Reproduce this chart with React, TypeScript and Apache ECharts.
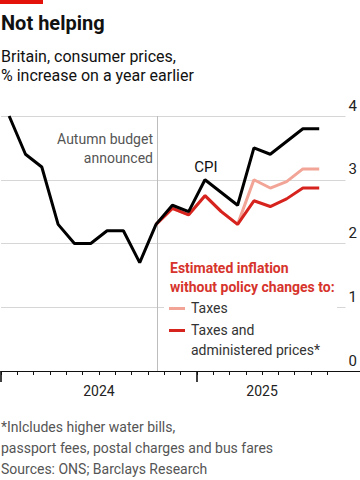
import React, { useEffect, useRef } from "react";
import * as echarts from "echarts";

// Months Jan 2024 .. Aug 2025
const months = [
  "Jan 2024", "Feb 2024", "Mar 2024", "Apr 2024", "May 2024", "Jun 2024",
  "Jul 2024", "Aug 2024", "Sep 2024", "Oct 2024", "Nov 2024", "Dec 2024",
  "Jan 2025", "Feb 2025", "Mar 2025", "Apr 2025", "May 2025", "Jun 2025",
  "Jul 2025", "Aug 2025",
];
const cpi = [4.0, 3.4, 3.2, 2.3, 2.0, 2.0, 2.2, 2.2, 1.7, 2.3, 2.6, 2.5, 3.0, 2.8, 2.6, 3.5, 3.4, 3.6, 3.8, 3.8];
const taxes = [null, null, null, null, null, null, null, null, null, 2.3, 2.55, 2.45, 2.75, 2.5, 2.3, 3.0, 2.87, 2.97, 3.17, 3.17];
const taxesAdmin = [null, null, null, null, null, null, null, null, null, 2.3, 2.55, 2.45, 2.75, 2.5, 2.3, 2.67, 2.58, 2.7, 2.87, 2.87];
const monthTicks = [0, 1, 2, 3, 4, 5, 6, 7, 8, 9, 10, 11, 12, 13, 14, 15, 16, 17, 18, 19, 20];
const yearTicks = [0, 12];
const yearLabelPos = [6, 16];
const yearLabels = ["2024", "2025"];
const budgetMonth = 9.55;
const yTicks = [0, 1, 2, 3, 4];

const FONT = "Roboto";

function toPoints(arr: (number | null)[]) {
  const out: number[][] = [];
  arr.forEach((v, i) => {
    if (v !== null) out.push([i + 0.5, v]);
  });
  return out;
}

export default function App() {
  const ref = useRef<HTMLDivElement>(null);
  useEffect(() => {
    if (!ref.current) return;
    const chart = echarts.init(ref.current, null, { renderer: "svg" });
    const txt = (text: string, x: number, y: number, o: any = {}) => ({
      type: "text",
      x,
      y,
      z: 10,
      style: {
        text,
        fontFamily: FONT,
        fontSize: 14,
        fill: "#222",
        verticalAlign: "middle",
        align: "left",
        ...o,
      },
    });
    chart.setOption({
      animation: false,
      backgroundColor: "#fff",
      grid: [
        { left: 1, right: 0, top: 116, bottom: 109 },
        { left: 1, right: 11, top: 116, bottom: 109 },
      ],
      xAxis: [
        {
          gridIndex: 0,
          type: "value",
          min: 0,
          max: 22,
          z: 5,
          axisLine: { show: true, lineStyle: { color: "#111", width: 1 } },
          axisTick: { show: true, customValues: monthTicks, length: 4, lineStyle: { color: "#111", width: 1 } },
          axisLabel: { show: false },
          splitLine: { show: false },
        },
        {
          gridIndex: 0,
          type: "value",
          min: 0,
          max: 22,
          position: "bottom",
          z: 5,
          axisLine: { show: false },
          axisTick: { show: true, customValues: yearTicks, length: 11, lineStyle: { color: "#111", width: 1.6 } },
          axisLabel: {
            show: true,
            customValues: yearLabelPos,
            formatter: (v: number) => yearLabels[yearLabelPos.indexOf(v)] ?? "",
            fontFamily: FONT,
            fontSize: 14,
            color: "#222",
            margin: 13,
          },
          splitLine: { show: false },
        },
        { gridIndex: 1, type: "value", min: 0, max: 22, show: false },
      ],
      yAxis: [
        { gridIndex: 0, type: "value", min: 0, max: 4, show: false },
        {
          gridIndex: 1,
          type: "value",
          min: 0,
          max: 4,
          interval: 1,
          position: "right",
          axisLine: { show: false },
          axisTick: { show: false },
          splitLine: { show: true, lineStyle: { color: "#d6d6d6", width: 1 } },
          axisLabel: {
            show: true,
            customValues: yTicks,
            margin: 3,
            verticalAlign: "bottom",
            padding: [0, 0, 3, 0],
            fontFamily: FONT,
            fontSize: 15,
            color: "#222",
          },
        },
      ],
      series: [
        {
          type: "line",
          name: "Taxes",
          xAxisIndex: 0,
          yAxisIndex: 0,
          data: toPoints(taxes),
          symbol: "none",
          lineStyle: { color: "#f2a497", width: 3 },
          z: 3,
        },
        {
          type: "line",
          name: "Taxes and administered prices",
          xAxisIndex: 0,
          yAxisIndex: 0,
          data: toPoints(taxesAdmin),
          symbol: "none",
          lineStyle: { color: "#d7231e", width: 3 },
          z: 4,
        },
        {
          type: "line",
          name: "CPI",
          xAxisIndex: 0,
          yAxisIndex: 0,
          data: toPoints(cpi),
          symbol: "none",
          lineStyle: { color: "#000", width: 3 },
          z: 5,
          markLine: {
            silent: true,
            symbol: "none",
            label: { show: false },
            lineStyle: { color: "#bdbdbd", width: 1, type: "solid" },
            data: [{ xAxis: budgetMonth }],
            z: 1,
          },
        },
      ],
      graphic: [
        { type: "rect", shape: { x: 0, y: 0, width: 43, height: 4 }, style: { fill: "#e3120b" }, z: 10 },
        txt("Not helping", 1, 23, { fontSize: 20, fontWeight: "bold", fill: "#111" }),
        txt("Britain, consumer prices,", 1, 56, { fontSize: 16, fill: "#111" }),
        txt("% increase on a year earlier", 1, 75, { fontSize: 16, fill: "#111" }),
        txt("Autumn budget", 153, 139, { align: "right", fill: "#555" }),
        txt("announced", 153, 158, { align: "right", fill: "#555" }),
        txt("CPI", 206, 167, { align: "center", fontSize: 15, fill: "#111" }),
        { type: "rect", shape: { x: 164, y: 256, width: 173, height: 106 }, style: { fill: "#fff" }, z: 8 },
        txt("Estimated inflation", 170, 268, { fontWeight: "bold", fill: "#d6342c" }),
        txt("without policy changes to:", 170, 287, { fontWeight: "bold", fill: "#d6342c" }),
        { type: "rect", shape: { x: 169, y: 307, width: 16, height: 3 }, style: { fill: "#f2a497" }, z: 10 },
        txt("Taxes", 191, 308, { fill: "#333" }),
        { type: "rect", shape: { x: 169, y: 329, width: 16, height: 3 }, style: { fill: "#d7231e" }, z: 10 },
        txt("Taxes and", 191, 330, { fill: "#333" }),
        txt("administered prices*", 191, 350, { fill: "#333" }),
        txt("*Inlcludes higher water bills,", 1, 427, { fill: "#555" }),
        txt("passport fees, postal charges and bus fares", 1, 448, { fill: "#555" }),
        txt("Sources: ONS; Barclays Research", 1, 469, { fill: "#555" }),
      ],
    });
    return () => chart.dispose();
  }, []);
  return (
    <div
      ref={ref}
      style={{ position: "absolute", left: 0, top: 0, width: 360, height: 480 }}
    />
  );
}
